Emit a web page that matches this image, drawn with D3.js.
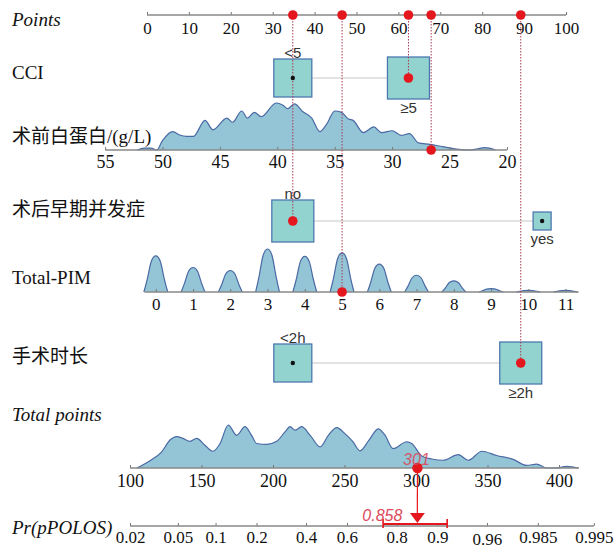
<!DOCTYPE html>
<html><head><meta charset="utf-8">
<script src="https://cdn.jsdelivr.net/npm/d3@7"></script>
<style>body{margin:0;background:#fff}svg{display:block}</style>
</head><body><svg id="c" width="614" height="548"></svg>
<script>
// ---------------- data ----------------
const pointsTicks = [0,10,20,30,40,50,60,70,80,90,100];
const cciLevels = ["<5","≥5"];      const cciPoints = [34.8, 62.4]; const cciFreq = [45, 55];
const compLevels = ["no","yes"];    const compPoints = [34.8, 94.3]; const compFreq = [84.5, 15.5];
const durLevels = ["<2h","≥2h"];    const durPoints = [34.8, 89.2]; const durFreq = [45, 55];
const albTicks = [55,50,45,40,35,30,25,20];
const albEnds = [55, 20]; const albEndPoints = [-10, 85.9];
const albDensX = [52.2,51.6,51.0,50.5,50.0,49.1,48.5,47.9,47.3,46.3,45.6,44.4,43.9,43.1,42.6,42.0,41.4,40.1,39.5,39.1,38.5,37.8,37.0,36.3,35.7,35.0,34.4,33.8,33.4,32.5,31.6,30.9,30.0,29.2,28.5,27.7,26.7,25.6,24.4,23.2,21.9,21.0];
const albDensY = [0,0.04,0.04,0,0.2,0.39,0.32,0.29,0.29,0.63,0.43,0.68,0.59,0.83,0.68,0.8,0.71,1.0,0.95,0.88,0.98,0.82,0.68,0.39,0.55,0.83,0.8,0.66,0.63,0.37,0.49,0.37,0.41,0.31,0.35,0.15,0.12,0.07,0.02,0,0.05,0];
const pimTicks = [0,1,2,3,4,5,6,7,8,9,10,11];
const pimEnds = [0, 11]; const pimEndPoints = [2.1, 99.9];
const pimFreq = [0.84,0.57,0.50,1.0,0.83,0.91,0.65,0.39,0.26,0.08,0.04,0.04];
const totalTicks = [100,150,200,250,300,350,400];
const totalDensX = [104.7,114,122,128,132.6,137,142,146.6,152.4,158,163,168.7,174.6,180.4,185,188.6,195.6,202.6,208.4,212,215.4,220,226,233,238.7,244.6,250.3,256,260.8,267,273.6,278,284,293.5,297,304,311,319,329.6,336.6,346,356.4,368,377.4,384.4,391.4,398.4,405.4,413.5];
const totalDensY = [0,0.17,0.37,0.65,0.73,0.69,0.62,0.69,0.53,0.39,0.57,1.0,0.76,0.96,0.76,0.57,0.55,0.62,0.84,0.96,0.88,0.96,0.76,0.49,0.76,0.94,0.8,0.61,0.4,0.64,0.91,0.78,0.45,0.61,0.57,0.28,0.21,0.18,0.31,0.18,0.39,0.29,0.2,0.06,0.09,0,0,0.04,0];
const prTicks = [0.02,0.05,0.1,0.2,0.4,0.6,0.8,0.9,0.96,0.985,0.995];
const prIntercept = -6.724, prSlope = 0.02832;
const selCci = 1, selAlb = 26.6, selComp = 0, selPim = 5, selDur = 1;
const totalScore = 301, probValue = 0.858, probCI = [0.754, 0.916];

// ---------------- drawing ----------------
const svg = d3.select("#c");
const SERIF = "Liberation Serif", SANS = "Liberation Sans", CJK = "Noto Sans CJK SC";
const red = "#e3171d", dotLine = "#a83a52";
const densFill = "#93c5d7", densStroke = "#4b69a3";
const boxFill = "#93d3cf", boxStroke = "#4c78b0";

const xP = d3.scaleLinear().domain([0,100]).range([147,566]);
const xAlb = d3.scaleLinear().domain(albEnds).range(albEndPoints.map(xP));
const xPim = d3.scaleLinear().domain(pimEnds).range(pimEndPoints.map(xP));
const xT = d3.scaleLinear().domain([100,400]).range([130,559]);
const logit = p => Math.log(p/(1-p));
const tOf = l => (l - prIntercept)/prSlope;
const lo = logit(prTicks[0]), hi = logit(prTicks[prTicks.length-1]);
const xL = d3.scaleLinear().domain([lo,hi]).range([xT(tOf(lo)), xT(tOf(hi))]);

const Y = {points:15, cci:78, alb:150, comp:221, pim:292, dur:363, total:468, pr:526};

// left labels
function leftLabel(y, parts){
  const t = svg.append("text").attr("x",12).attr("y",y).attr("font-size",19).attr("fill","#111")
    .attr("font-family", parts[0].f);
  parts.forEach(p => t.append("tspan").text(p.t).attr("font-family",p.f).attr("font-style",p.i?"italic":"normal"));
}
leftLabel(25.5,[{t:"Points",f:SERIF,i:true}]);
leftLabel(79,[{t:"CCI",f:SERIF}]);
leftLabel(143,[{t:"术前白蛋白",f:CJK},{t:"/(g/L)",f:SERIF}]);
leftLabel(216,[{t:"术后早期并发症",f:CJK}]);
leftLabel(284,[{t:"Total-PIM",f:SERIF}]);
leftLabel(363,[{t:"手术时长",f:CJK}]);
leftLabel(421,[{t:"Total points",f:SERIF,i:true}]);
leftLabel(534,[{t:"Pr(pPOLOS)",f:SERIF,i:true}]);

// axis helper
function drawAxis(y, scale, ticks, pad, fs, lineExtent, fmt){
  const ax = d3.axisBottom(scale).tickValues(ticks).tickSizeInner(-3).tickSizeOuter(0).tickPadding(pad);
  if (fmt) ax.tickFormat(fmt);
  const g = svg.append("g").attr("transform",`translate(0,${y})`).call(ax);
  g.attr("font-family",SERIF).attr("font-size",fs);
  g.select(".domain").remove();
  g.append("line").attr("x1",lineExtent[0]).attr("x2",lineExtent[1]).attr("stroke","#888").attr("stroke-width",1.3);
  g.selectAll(".tick line").attr("stroke","#777");
  g.selectAll(".tick text").attr("font-family",SERIF).attr("font-size",fs).attr("fill","#111");
  return g;
}

// density helper
function drawDensity(y, xs, ys, xscale, hmax, curve){
  const pts = xs.map((v,i)=>[v,ys[i]]);
  const area = d3.area().x(d=>xscale(d[0])).y0(y).y1(d=>y - d[1]*hmax).curve(curve||d3.curveMonotoneX);
  const line = d3.line().x(d=>xscale(d[0])).y(d=>y - d[1]*hmax).curve(curve||d3.curveMonotoneX);
  svg.append("path").attr("d",area(pts)).attr("fill",densFill);
  svg.append("path").attr("d",line(pts)).attr("fill","none").attr("stroke",densStroke).attr("stroke-width",1.2);
}

// Points axis
drawAxis(Y.points, xP, pointsTicks, 7, 17, [xP(0), xP(100)]);

// albumin
drawDensity(Y.alb, albDensX, albDensY, xAlb, 47);
drawAxis(Y.alb, xAlb, albTicks, 5, 18, [xAlb(55), xAlb(20)]);

// Total-PIM bumps
const bumpShape = [[-0.32,0],[-0.23,0.35],[-0.12,0.85],[0,1],[0.12,0.85],[0.23,0.35],[0.32,0]];
pimTicks.forEach((v,i)=>{
  const pts = bumpShape.map(s=>[v+s[0], s[1]*pimFreq[i]]);
  drawDensity(Y.pim, pts.map(d=>d[0]), pts.map(d=>d[1]), xPim, 43, d3.curveCardinal);
});
drawAxis(Y.pim, xPim, pimTicks, 6, 17, [xPim(-0.3), xPim(11.35)]);

// Total points
drawDensity(Y.total, totalDensX, totalDensY, xT, 43);
drawAxis(Y.total, xT, totalTicks, 6, 18, [xT(100), xT(414)]);

// Pr axis
const prAx = drawAxis(Y.pr, xL, prTicks.map(logit), 5, 17, [xL(lo), xL(hi)], (d,i)=>String(prTicks[i]));
prAx.selectAll(".tick text").attr("dy",(d,i)=> prTicks[i]===0.96 ? "0.82em" : "0.71em");

// categorical boxes
function drawBoxes(y, levels, pts, freq, sel){
  const fmax = d3.max(freq);
  const side = freq.map(f=>42*Math.sqrt(f/fmax));
  svg.append("line").attr("x1",xP(pts[0])+side[0]/2).attr("x2",xP(pts[1])-side[1]/2)
    .attr("y1",y).attr("y2",y).attr("stroke","#c8c8c8").attr("stroke-width",1.2);
  levels.forEach((lv,i)=>{
    const cx = xP(pts[i]), s = side[i];
    svg.append("rect").attr("x",cx-s/2).attr("y",y-s/2).attr("width",s).attr("height",s)
      .attr("fill",boxFill).attr("stroke",boxStroke).attr("stroke-width",1.3);
    svg.append("text").attr("x",cx).attr("y", i===0 ? y-s/2-1 : y+s/2+14)
      .attr("text-anchor","middle").attr("font-family",SANS).attr("font-size",15).attr("fill","#333").text(lv);
  });
}
drawBoxes(Y.cci, cciLevels, cciPoints, cciFreq, selCci);
drawBoxes(Y.comp, compLevels, compPoints, compFreq, selComp);
drawBoxes(Y.dur, durLevels, durPoints, durFreq, selDur);

// dotted projection lines and dots
const marks = [
  {x: xP(cciPoints[selCci]), y: Y.cci},
  {x: xAlb(selAlb), y: Y.alb},
  {x: xP(compPoints[selComp]), y: Y.comp},
  {x: xPim(selPim), y: Y.pim},
  {x: xP(durPoints[selDur]), y: Y.dur}
];
marks.forEach(m=>{
  svg.append("line").attr("x1",m.x).attr("x2",m.x).attr("y1",Y.points).attr("y2",m.y)
    .attr("stroke",dotLine).attr("stroke-width",1).attr("stroke-dasharray","1.5,1.5");
});
[[cciPoints,selCci,Y.cci],[compPoints,selComp,Y.comp],[durPoints,selDur,Y.dur]].forEach(([pts,sel,y])=>{
  pts.forEach((p,i)=>{ if(i!==sel) svg.append("circle").attr("cx",xP(p)).attr("cy",y).attr("r",2.2).attr("fill","#111"); });
});
marks.forEach(m=>{
  svg.append("circle").attr("cx",m.x).attr("cy",m.y).attr("r",4.8).attr("fill",red);
  svg.append("circle").attr("cx",m.x).attr("cy",Y.points).attr("r",4.8).attr("fill",red);
});

// total & probability
const tx = xT(totalScore);
const px = xL(logit(probValue));
svg.append("line").attr("x1",tx).attr("x2",px).attr("y1",Y.total).attr("y2",Y.pr-13).attr("stroke",red).attr("stroke-width",1.2);
svg.append("circle").attr("cx",tx).attr("cy",Y.total).attr("r",5.2).attr("fill",red);
svg.append("text").attr("x",tx-1).attr("y",Y.total-3).attr("text-anchor","middle").attr("font-family",SANS)
  .attr("font-style","italic").attr("font-size",16).attr("fill","#dc4a5c").attr("opacity",0.9).text(totalScore);
const c0 = xL(logit(probCI[0])), c1 = xL(logit(probCI[1])), cy = Y.pr-2;
svg.append("line").attr("x1",c0).attr("x2",c1).attr("y1",cy).attr("y2",cy).attr("stroke",red).attr("stroke-width",2);
[c0,c1].forEach(c=>svg.append("line").attr("x1",c).attr("x2",c).attr("y1",cy-5).attr("y2",cy+4).attr("stroke",red).attr("stroke-width",1.6));
svg.append("path").attr("d",`M${px-7.5},${Y.pr-13}L${px+7.5},${Y.pr-13}L${px},${Y.pr-3}Z`).attr("fill",red);
svg.append("text").attr("x",px-15).attr("y",Y.pr-5).attr("text-anchor","end").attr("font-family",SANS)
  .attr("font-style","italic").attr("font-size",16).attr("fill","#dc4a5c").text(probValue);
</script></body></html>
